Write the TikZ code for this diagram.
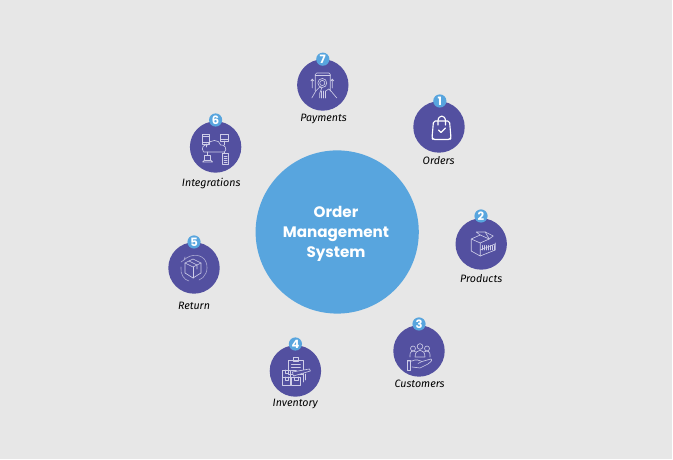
\documentclass[tikz,border=0pt]{standalone}
\usepackage{fontspec}
\setmainfont{Fira Sans}
\newfontfamily\titlefont{Poppins}
\usetikzlibrary{positioning}
\definecolor{vbg}{HTML}{E7E7E7}
\definecolor{vblue}{HTML}{58A5DE}
\definecolor{vpurple}{HTML}{5350A0}
\definecolor{vline}{HTML}{CFCEE8}
\tikzset{
  hubnode/.style={circle,fill=vblue,minimum size=4.08cm,inner sep=0pt},
  titlenode/.style={inner sep=0pt,align=center,text=white,font=\titlefont\bfseries\fontsize{10.8}{14.3}\selectfont},
  itemnode/.style={circle,fill=vpurple,minimum size=1.285cm,inner sep=0pt},
  numnode/.style={circle,fill=vblue,minimum size=.33cm,inner sep=0pt,text=white,font=\titlefont\bfseries\fontsize{8.2}{8}\selectfont},
  labelnode/.style={inner sep=0pt,text=black,font=\itshape\fontsize{7.6}{9}\selectfont},
  iconline/.style={draw=vline,line width=.45pt,x=.025cm,y=-.025cm,line join=round,line cap=round},
  bagicon/.pic={
    \draw[iconline,draw=white,line width=.8pt,rounded corners=1.2pt] (-5.5,-6) -- (10.5,-6) -- (12,11) -- (11,12.5) -- (-6,12.5) -- (-7,11) -- cycle;
    \draw[iconline,draw=white,line width=.8pt] (-1,-2) -- (-1,-6) .. controls (-1,-12.5) and (6.5,-12.5) .. (6.5,-6) -- (6.5,-2);
    \draw[iconline,draw=white,line width=.8pt] (-.5,3) -- (2,5.5) -- (6.5,1);
  },
  boxicon/.pic={
    \draw[iconline] (-10,-5) -- (-1,-9) -- (8,-5) -- (-1,-1) -- cycle;
    \draw[iconline] (-10,-5) -- (-10,7) -- (-1,12) -- (-1,-1);
    \draw[iconline] (-1,12) -- (14,6) -- (14,-1);
    \draw[iconline] (-1,6) -- (14,0);
    \draw[iconline] (-1,-9) -- (-5,-12) -- (4,-12) -- (8,-5);
    \draw[iconline] (4,-12) -- (12,-8) -- (8,-5);
    \foreach \i in {1,3,...,13} {\draw[iconline] (\i,1.5) -- (\i,6);}
  },
  peopleicon/.pic={
    \draw[iconline] (1,-4.5) circle (2.8);
    \draw[iconline] (-4,6) .. controls (-4,-3) and (6,-3) .. (6,6) -- cycle;
    \draw[iconline] (-6,-2.5) circle (2.5);
    \draw[iconline] (-9,6) .. controls (-10,0) and (-6,-1) .. (-3,1);
    \draw[iconline] (8,-2.5) circle (2.5);
    \draw[iconline] (11,6) .. controls (12,0) and (8,-1) .. (5,1);
    \draw[iconline] (-11,10) -- (-7,10) .. controls (-3,8) and (0,9) .. (3,10.5) -- (12,8) .. controls (14,9) and (11,12) .. (9,13) -- (1,17) -- (-7,16);
    \draw[iconline] (-12,9) rectangle (-9,19);
    \draw[iconline] (3,10.5) -- (-1,12.5);
  },
  stockicon/.pic={
    \draw[iconline] (-7,-11) rectangle (8,3);
    \draw[iconline] (-2,-14) rectangle (3,-10);
    \draw[iconline] (-4,-7) -- (5,-7) (-4,-4) -- (5,-4) (-4,-1) -- (1,-1);
    \draw[iconline] (-13,-1) rectangle (-5,6);
    \draw[iconline] (-13,6) rectangle (-5,14);
    \draw[iconline] (-4,6) rectangle (5,14);
    \draw[iconline,fill=vpurple] (-3,1) -- (14,-2) -- (15,0) -- (-2,5) -- cycle;
    \draw[iconline] (-10.5,-1) -- (-10.5,2) -- (-7.5,2) -- (-7.5,-1);
    \draw[iconline] (-10.5,6) -- (-10.5,9) -- (-7.5,9) -- (-7.5,6);
    \draw[iconline] (-1.5,6) -- (-1.5,9) -- (2.5,9) -- (2.5,6);
    \draw[iconline] (8,4) -- (8,11) (10,3) -- (10,9);
  },
  returnicon/.pic={
    \draw[iconline] (-1,-9) -- (7,-5) -- (-1,-1) -- (-9,-5) -- cycle;
    \draw[iconline] (-9,-5) -- (-9,5) -- (-1,10) -- (7,5) -- (7,-5);
    \draw[iconline] (-1,-1) -- (-1,10);
    \draw[iconline] (-5,-7) -- (3,-3) -- (3,1);
    \draw[iconline,draw=vline!70!vpurple] (-10,-8) .. controls (-3,-15) and (9,-14) .. (12,-6) .. controls (15,2) and (11,10) .. (5,12);
    \draw[iconline,draw=vline!70!vpurple] (-13,-1) .. controls (-14,6) and (-10,12) .. (-5,13);
    \draw[iconline,draw=vline!70!vpurple] (-13,-6) -- (-10,-8) -- (-9,-11);
  },
  cloudicon/.pic={
    \draw[iconline] (-12,5) .. controls (-15,1) and (-12,-3) .. (-8,-2) .. controls (-6,-8) and (4,-8) .. (5,-2) .. controls (9,-3) and (12,2) .. (9,5) -- cycle;
    \draw[iconline] (-13,-13) rectangle (-6,-3);
    \draw[iconline] (-13,-11) -- (-6,-11) (-13,-5) -- (-6,-5);
    \draw[iconline] (5,-13) rectangle (13,-6);
    \draw[iconline] (5,-7.5) -- (13,-7.5);
    \draw[iconline] (9,-6) -- (9,-2) (-9,-3) -- (-9,0);
    \draw[iconline] (-11,8) rectangle (-5,13);
    \draw[iconline] (-13,15) -- (-3,15) -- (-5,13) (-13,15) -- (-11,13);
    \draw[iconline] (7,6) rectangle (13,17);
    \foreach \i in {9,11,13,15} {\draw[iconline] (8.5,\i) -- (11.5,\i);}
    \draw[iconline] (-8,5) -- (-8,8) (9,5) -- (9,6);
  },
  payicon/.pic={
    \draw[iconline,rounded corners=1pt] (-7.5,6) -- (-7.5,-12) -- (7.5,-12) -- (7.5,6);
    \draw[iconline] (-7.5,-9.5) -- (7.5,-9.5);
    \draw[iconline] (-.5,-2) circle (4.5);
    \draw[iconline] (-.5,-2) circle (2.6);
    \draw[iconline] (-10.5,3) -- (-10.5,-6) (-12,-4) -- (-10.5,-6) -- (-9,-4);
    \draw[iconline] (9.5,3) -- (9.5,-6) (8,-4) -- (9.5,-6) -- (11,-4);
    \draw[iconline] (-11,13) -- (-7,6) -- (-3,2) -- (-1,3) -- (-3,8) -- (-3,13);
    \draw[iconline] (-1,13) -- (-1,6) (1,13) -- (1,6) (3,6) -- (3,13);
    \draw[iconline] (3,6) -- (6,4) -- (9,7) -- (14,13);
  }
}
\begin{document}
\begin{tikzpicture}
\useasboundingbox (0,0) rectangle (16.825,11.5);
\fill[white] (0,0) rectangle (16.825,11.5);
\fill[vbg] (0,.025) rectangle (16.8,11.5);

\draw (8.43,5.7) node[hubnode] (hub) {};
\draw (8.4,5.66) node[titlenode] (title) {Order\\Management\\System};

\draw (8.07,9.375) node[itemnode] (payments) {};
\draw (10.975,8.325) node[itemnode] (orders) {};
\draw (12.03,5.4) node[itemnode] (products) {};
\draw (10.475,2.725) node[itemnode] (customers) {};
\draw (7.385,2.225) node[itemnode] (inventory) {};
\draw (4.85,4.8) node[itemnode] (return) {};
\draw (5.39,7.825) node[itemnode] (integrations) {};

\draw (8.07,10.02) node[numnode] (num7) {7};
\draw (10.995,8.975) node[numnode] (num1) {1};
\draw (12.025,6.1) node[numnode] (num2) {2};
\draw (10.475,3.4) node[numnode] (num3) {3};
\draw (7.385,2.9) node[numnode] (num4) {4};
\draw (4.85,5.45) node[numnode] (num5) {5};
\draw (5.39,8.5) node[numnode] (num6) {6};

\draw (8.09,8.53) node[labelnode] (lpayments) {Payments};
\draw (10.965,7.48) node[labelnode] (lorders) {Orders};
\draw (12.03,4.53) node[labelnode] (lproducts) {Products};
\draw (10.49,1.9) node[labelnode] (lcustomers) {Customers};
\draw (7.38,1.39) node[labelnode] (linventory) {Inventory};
\draw (4.85,3.85) node[labelnode] (lreturn) {Return};
\draw (5.28,6.92) node[labelnode] (lintegrations) {Integrations};

\pic at (orders) {bagicon};
\pic at (products) {boxicon};
\pic at (customers) {peopleicon};
\pic at (inventory) {stockicon};
\pic at (return) {returnicon};
\pic at (integrations) {cloudicon};
\pic at (payments) {payicon};
\end{tikzpicture}
\end{document}
